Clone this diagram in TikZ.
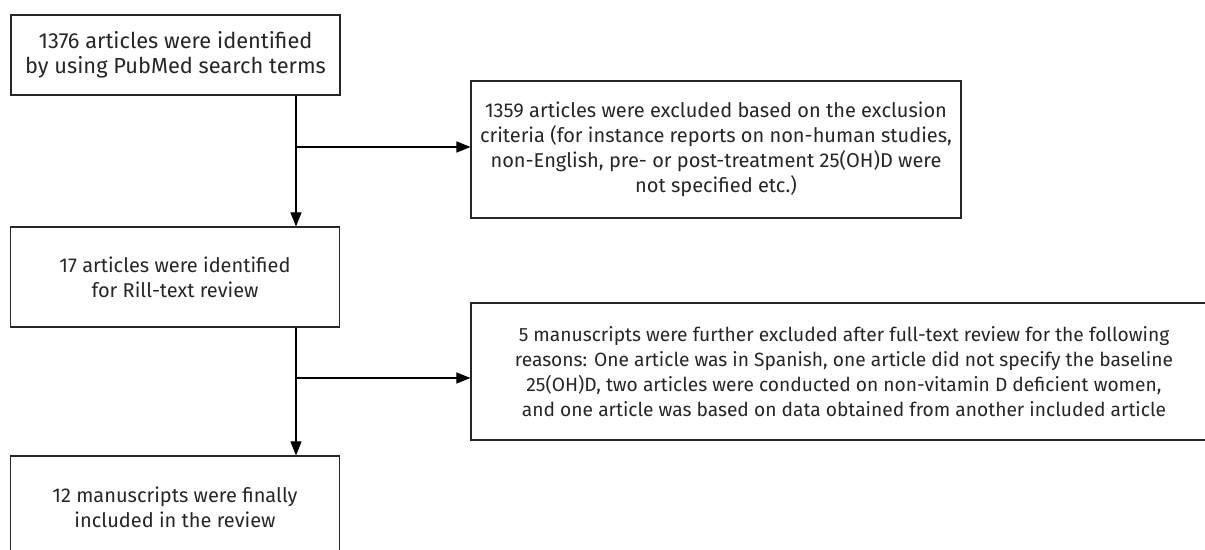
\documentclass[tikz,border=0pt]{standalone}
\usepackage{fontspec}
\setmainfont{Fira Sans}
\usetikzlibrary{arrows.meta}
\begin{document}
\begin{tikzpicture}[x=1bp,y=-1bp,
  box/.style={draw=black!85,line width=1.1bp,align=center,inner sep=0pt,
    font=\fontsize{20bp}{25bp}\selectfont,text=black!85},
  conn/.style={line width=1.1bp,-{Triangle[length=14bp,width=11bp]}}]
\useasboundingbox (0,0) rectangle (1205,550);
\node[box,minimum width=329bp,minimum height=80bp,font=\fontsize{21.8bp}{25bp}\selectfont] (b1) at (175.5,55)
  {1376 articles were identified\\by using PubMed search terms};
\node[box,minimum width=490bp,minimum height=137bp] (b2) at (716,149.5)
  {1359 articles were excluded based on the exclusion\\criteria (for instance reports on non-human studies,\\non-English, pre- or post-treatment 25(OH)D were\\not specified etc.)};
\node[box,minimum width=329bp,minimum height=100bp] (b3) at (175,277)
  {17 articles were identified\\for Rill-text review};
\node[box,minimum width=746bp,minimum height=137bp,font=\fontsize{19.2bp}{25bp}\selectfont] (b4) at (844,371.5)
  {5 manuscripts were further excluded after full-text review for the following\\reasons: One article was in Spanish, one article did not specify the baseline\\25(OH)D, two articles were conducted on non-vitamin D deficient women,\\and one article was based on data obtained from another included article};
\node[box,minimum width=329bp,minimum height=102bp] (b5) at (175,507)
  {12 manuscripts were finally\\included in the review};
\coordinate (j1) at (296,147);
\coordinate (j2) at (296,378);
\draw[conn] (b1.south -| j1) -- (b3.north -| j1);
\draw[conn] (j1) -- (j1 -| b2.west);
\draw[conn] (b3.south -| j2) -- (b5.north -| j2);
\draw[conn] (j2) -- (j2 -| b4.west);
\end{tikzpicture}
\end{document}
